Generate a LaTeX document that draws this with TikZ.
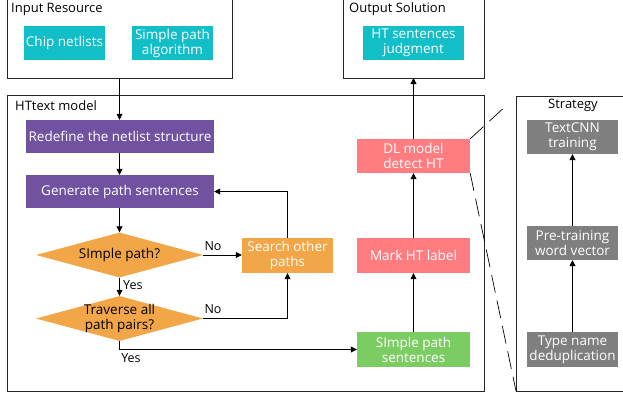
\documentclass[tikz,border=0pt]{standalone}
\usepackage{fontspec}
\setmainfont{Open Sans}
\usetikzlibrary{shapes.geometric,arrows.meta}
\definecolor{cteal}{RGB}{18,190,200}
\definecolor{cpurple}{RGB}{112,82,160}
\definecolor{corange}{RGB}{242,166,72}
\definecolor{cpink}{RGB}{255,124,128}
\definecolor{cgreen}{RGB}{124,204,100}
\definecolor{cgray}{RGB}{127,127,127}
\tikzset{
  frame/.style={draw=black!85, line width=0.9pt},
  fbox/.style={rectangle, inner sep=0pt, text=white, align=center, font=\fontsize{13.5}{15}\selectfont},
  dia/.style={diamond, fill=corange, inner sep=0pt, aspect=3.7, minimum width=167pt, minimum height=45pt},
  lbl/.style={inner sep=0pt, font=\fontsize{13.5}{15}\selectfont},
  ttl/.style={inner sep=0pt, font=\fontsize{13}{15}\selectfont},
  yn/.style={inner sep=0pt, font=\fontsize{12.5}{15}\selectfont},
  arr/.style={-{Triangle[width=6pt,length=6pt]}, line width=0.8pt},
  dsh/.style={line width=0.7pt, dash pattern=on 18pt off 8pt},
}
\begin{document}
\begin{tikzpicture}[x=1pt,y=-1pt]
\useasboundingbox (0,0) rectangle (623,396);
% frames
\draw[frame] (7,-2) rectangle (232,78);
\node[ttl, anchor=west] (tin) at (11,9.5) {Input Resource};
\draw[frame] (343,-2) rectangle (484,78);
\node[ttl, anchor=west] (tout) at (349,9.5) {Output Solution};
\draw[frame] (7,95) rectangle (484,391);
\node[ttl, anchor=west] (tmod) at (15,106) {HTtext model};
\draw[frame] (625,96) -- (516,96) -- (516,391) -- (625,391);
\node[ttl] (tstr) at (573,105.5) {Strategy};
\coordinate (inb) at (119.5,78);
\coordinate (outb) at (413.5,78);
% input nodes
\node[fbox, fill=cteal, minimum width=81pt, minimum height=34pt] (chip) at (64.5,43) {Chip netlists};
\node[fbox, fill=cteal, minimum width=81pt, minimum height=34pt] (spa) at (172.5,43) {Simple path\\algorithm};
\node[fbox, fill=cteal, minimum width=101pt, minimum height=34pt] (htj) at (413.5,43) {HT sentences\\judgment};
% model
\node[fbox, fill=cpurple, minimum width=188pt, minimum height=33pt] (redef) at (120,136.5) {Redefine the netlist structure};
\node[fbox, fill=cpurple, minimum width=188pt, minimum height=33pt] (gen) at (120,191.5) {Generate path sentences};
\node[dia] (d1) at (119.5,255) {};
\node[lbl, align=center] (d1t) at (d1.center) {SImple path?};
\node[dia] (d2) at (119.5,318.5) {};
\node[lbl, align=center] (d2t) at (d2.center) {Traverse all\\path pairs?};
\node[fbox, fill=corange, minimum width=91pt, minimum height=35pt] (search) at (287.5,255.5) {Search other\\paths};
\node[fbox, fill=cgreen, minimum width=113pt, minimum height=35pt] (sps) at (413.5,349.5) {SImple path\\sentences};
\node[fbox, fill=cpink, minimum width=113pt, minimum height=35pt] (mark) at (413.5,255.5) {Mark HT label};
\node[fbox, fill=cpink, minimum width=113pt, minimum height=34pt] (dl) at (413.5,156) {DL model\\detect HT};
% strategy
\node[fbox, fill=cgray, minimum width=91pt, minimum height=34pt] (tcnn) at (572.5,137) {TextCNN\\training};
\node[fbox, fill=cgray, minimum width=91pt, minimum height=34pt] (ptw) at (572.5,243) {Pre-training\\word vector};
\node[fbox, fill=cgray, minimum width=91pt, minimum height=35pt] (tnd) at (572.5,349.5) {Type name\\deduplication};
% connectors
\draw[arr] (inb) -- (redef.north -| inb);
\draw[arr] (redef.south -| inb) -- (gen.north -| inb);
\draw[arr] (gen.south -| inb) -- (d1.north -| inb);
\draw[arr] (d1.south -| inb) -- (d2.north -| inb);
\node[yn, anchor=west] (yes1) at (123,285.5) {Yes};
\draw[arr] (d1.east) -- (search.west |- d1.east);
\node[yn] (no1) at (213,246.5) {No};
\draw[arr] (d2.east) -- (d2.east -| search.south) -- (search.south);
\node[yn] (no2) at (213,309.5) {No};
\draw[arr] (search.north) |- (gen.east);
\draw[arr] (d2.south) -- (119.5,349.5) -- (sps.west);
\node[yn] (yes2) at (131,358) {Yes};
\draw[arr] (sps.north) -- (mark.south);
\draw[arr] (mark.north) -- (dl.south);
\draw[arr] (dl.north) -- (outb);
\draw[arr] (tnd.north) -- (ptw.south);
\draw[arr] (ptw.north) -- (tcnn.south);
\coordinate (s1) at (508,104);
\draw[dsh] (dl.north east) -- (s1);
\draw[dsh] (dl.south east) -- (516,391);
\end{tikzpicture}
\end{document}
